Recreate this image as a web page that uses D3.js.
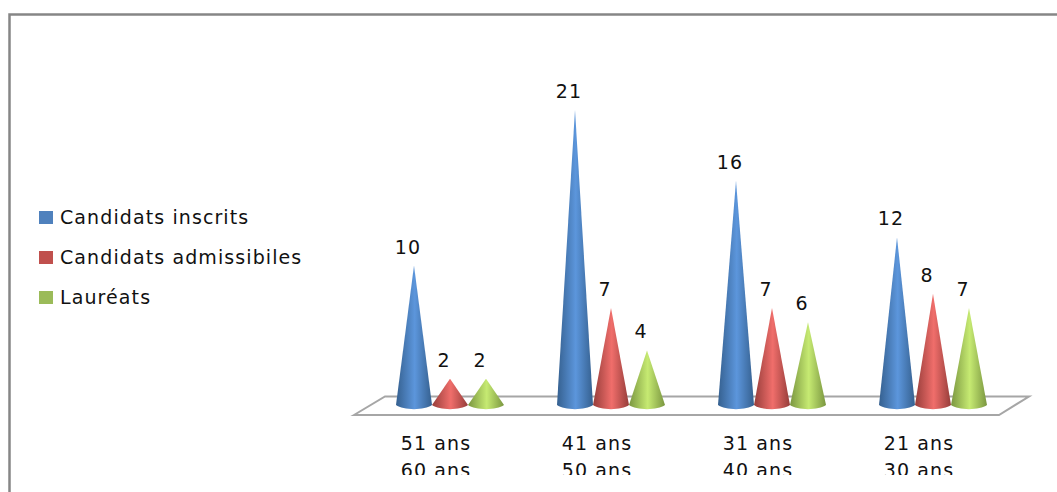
<!DOCTYPE html>
<html>
<head>
<meta charset="utf-8">
<script src="https://cdn.jsdelivr.net/npm/d3@7"></script>
<style>
  html, body { margin: 0; padding: 0; background: #fff; overflow: hidden; }
  text { font-family: "DejaVu Sans", sans-serif; fill: #111; font-size: 19px; letter-spacing: 1.1px; }
</style>
</head>
<body>
<script>
// chart values
const ageFrom = ["51 ans", "41 ans", "31 ans", "21 ans"];
const ageTo = ["60 ans", "50 ans", "40 ans", "30 ans"];
const seriesNames = ["Candidats inscrits", "Candidats admissibiles", "Lauréats"];
const inscrits = [10, 21, 16, 12];
const admissibles = [2, 7, 7, 8];
const laureats = [2, 4, 6, 7];
const seriesColors = ["#4f81bd", "#c0504d", "#9bbb59"];
const edgeColors = ["#35608f", "#963d3a", "#7a9640"];
const midColors = ["#5c96dc", "#f06e6b", "#c6ea72"];

const width = 1057, height = 492;
const allSeries = [inscrits, admissibles, laureats];

const svg = d3.select("body").append("svg")
  .attr("width", width)
  .attr("height", height)
  .style("display", "block");

const defs = svg.append("defs");
seriesNames.forEach((name, s) => {
  const grad = defs.append("linearGradient").attr("id", "cone" + s);
  grad.append("stop").attr("offset", "0%").attr("stop-color", edgeColors[s]);
  grad.append("stop").attr("offset", "52%").attr("stop-color", midColors[s]);
  grad.append("stop").attr("offset", "100%").attr("stop-color", edgeColors[s]);
});
// the category labels are cut off at the bottom in the original
defs.append("clipPath").attr("id", "labelClip")
  .append("rect").attr("x", 340).attr("y", 425).attr("width", 700).attr("height", 50);

// chart frame, only top and left edges show
svg.append("path")
  .attr("d", "M9.5," + height + "V14.5H" + width)
  .attr("fill", "none")
  .attr("stroke", "#868686")
  .attr("stroke-width", 2.5);

// scales
const x = d3.scaleBand().domain(ageFrom).range([369.5, 1013.5]).padding(0);
const inner = d3.scalePoint().domain([0, 1, 2]).range([-36, 36]);
const y = d3.scaleLinear().domain([0, 21]).range([407, 110]);

// floor of the 3d chart
const floor = d3.path();
floor.moveTo(354, 415);
floor.lineTo(385, 396.5);
floor.lineTo(1029, 396.5);
floor.lineTo(999, 415);
floor.closePath();
svg.append("path")
  .attr("d", floor.toString())
  .attr("fill", "#fff")
  .attr("stroke", "#a6a6a6")
  .attr("stroke-width", 2);

const coneHalf = 18;
function conePath(cx, value) {
  const p = d3.path();
  const baseY = y(0) - 2;
  p.moveTo(cx, y(value));
  p.lineTo(cx + coneHalf, baseY);
  p.bezierCurveTo(cx + coneHalf * 0.6, baseY + 5.5, cx - coneHalf * 0.6, baseY + 5.5, cx - coneHalf, baseY);
  p.closePath();
  return p.toString();
}

// cones and their value labels
ageFrom.forEach((age, g) => {
  const center = x(age) + x.bandwidth() / 2;
  allSeries.forEach((values, s) => {
    const cx = center + inner(s);
    svg.append("path")
      .attr("d", conePath(cx, values[g]))
      .attr("fill", "url(#cone" + s + ")");
    svg.append("text")
      .attr("x", cx - 6)
      .attr("y", y(values[g]) - 12)
      .attr("text-anchor", "middle")
      .text(values[g]);
  });
});

// category labels on two lines
const labels = svg.append("g").attr("clip-path", "url(#labelClip)");
ageFrom.forEach((age, g) => {
  const center = x(age) + x.bandwidth() / 2 - 14;
  labels.append("text").attr("x", center).attr("y", 450)
    .attr("text-anchor", "middle").text(age);
  labels.append("text").attr("x", center).attr("y", 477)
    .attr("text-anchor", "middle").text(ageTo[g]);
});

// legend
const legendY = d3.scalePoint().domain(seriesNames).range([217, 297]);
seriesNames.forEach((name, s) => {
  svg.append("rect")
    .attr("x", 39).attr("y", legendY(name) - 6)
    .attr("width", 14).attr("height", 13)
    .attr("fill", seriesColors[s]);
  svg.append("text")
    .attr("x", 60).attr("y", legendY(name) + 7)
    .text(name);
});
</script>
</body>
</html>
